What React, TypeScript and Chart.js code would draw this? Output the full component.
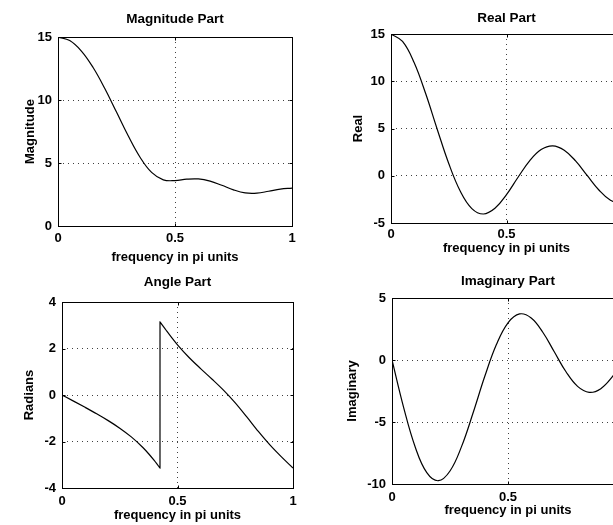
import React, { useEffect, useRef } from "react";
import { Chart, registerables } from "chart.js";
Chart.register(...registerables);

// ---- data ----
const freq = [0, 0.05, 0.1, 0.15, 0.2, 0.25, 0.3, 0.35, 0.4, 0.45, 0.5, 0.55, 0.6, 0.65, 0.7, 0.75, 0.8, 0.85, 0.9, 0.95, 1];
const magnitude = [15, 14.714, 13.882, 12.575, 10.911, 9.043, 7.158, 5.478, 4.253, 3.666, 3.606, 3.719, 3.735, 3.561, 3.232, 2.869, 2.629, 2.61, 2.76, 2.93, 3.0];
const realPart = [15, 14.21, 11.979, 8.697, 4.927, 1.293, -1.64, -3.474, -4.045, -3.448, -2.0, -0.16, 1.573, 2.771, 3.168, 2.707, 1.545, 0.005, -1.507, -2.602, -3.0];
const imagPart = [0, -3.819, -7.014, -9.083, -9.735, -8.95, -6.967, -4.236, -1.314, 1.244, 3.0, 3.716, 3.388, 2.236, 0.641, -0.95, -2.127, -2.61, -2.312, -1.347, 0];
const angleFreq = [0, 0.05, 0.1, 0.15, 0.2, 0.25, 0.3, 0.35, 0.375, 0.4, 0.41, 0.42, 0.4242, 0.4243, 0.425, 0.45, 0.475, 0.5, 0.55, 0.6, 0.65, 0.7, 0.75, 0.8, 0.85, 0.9, 0.95, 1];
const angleRad = [0, -0.2625, -0.5298, -0.8065, -1.1022, -1.4273, -1.8022, -2.2581, -2.5275, -2.8274, -2.955, -3.0859, -3.1416, 3.1416, 3.131, 2.7955, 2.4671, 2.1588, 1.6139, 1.1362, 0.679, 0.1997, -0.3374, -0.9425, -1.5689, -2.1487, -2.6638, -3.1416];

const freqTicks = [0, 0.5, 1];
const magTicks = [0, 5, 10, 15];
const realTicks = [-5, 0, 5, 10, 15];
const angleTicks = [-4, -2, 0, 2, 4];
const imagTicks = [-10, -5, 0, 5];

const titles = ["Magnitude Part", "Real Part", "Angle Part", "Imaginary Part"];
const yLabels = ["Magnitude", "Real", "Radians", "Imaginary"];
const xLabel = "frequency in pi units";

// ---- layout (page pixels) ----
const W = 640;
const H = 525;
const FONT = "'Liberation Sans', Arial, Helvetica, sans-serif";
const FS = 13;
const TFS = 13.5;

type Box = { L: number; R: number; T: number; B: number; titleY: number; ylabX: number; xlabY: number; tickPad: number };

const panels = [
  { x: freq, y: magnitude, yTicks: magTicks, mono: false, box: { L: 58, R: 292, T: 37, B: 226, titleY: 19.5, ylabX: 30, xlabY: 257.5, tickPad: 5 } },
  { x: freq, y: realPart, yTicks: realTicks, mono: false, box: { L: 391, R: 622, T: 34, B: 223, titleY: 18.5, ylabX: 358, xlabY: 248.5, tickPad: 4 } },
  { x: angleFreq, y: angleRad, yTicks: angleTicks, mono: true, box: { L: 62, R: 293, T: 302, B: 488, titleY: 282, ylabX: 29.5, xlabY: 515, tickPad: 5.5 } },
  { x: freq, y: imagPart, yTicks: imagTicks, mono: false, box: { L: 392, R: 624, T: 298, B: 484, titleY: 281, ylabX: 352, xlabY: 510, tickPad: 5.5 } },
];

const boxPlugin = {
  id: "matlabBox",
  afterDraw(chart: any) {
    const { ctx, chartArea: a } = chart;
    const l = Math.round(a.left) + 0.5;
    const t = Math.round(a.top) + 0.5;
    const r = Math.round(a.right) + 0.5;
    const b = Math.round(a.bottom) + 0.5;
    ctx.save();
    ctx.strokeStyle = "#000";
    ctx.lineWidth = 1;
    ctx.strokeRect(l, t, r - l, b - t);
    ctx.beginPath();
    const tl = 3;
    chart.scales.x.ticks.forEach((tk: any) => {
      const px = Math.round(chart.scales.x.getPixelForValue(tk.value)) + 0.5;
      ctx.moveTo(px, b); ctx.lineTo(px, b - tl);
      ctx.moveTo(px, t); ctx.lineTo(px, t + tl);
    });
    chart.scales.y.ticks.forEach((tk: any) => {
      const py = Math.round(chart.scales.y.getPixelForValue(tk.value)) + 0.5;
      ctx.moveTo(l, py); ctx.lineTo(l + tl, py);
      ctx.moveTo(r, py); ctx.lineTo(r - tl, py);
    });
    ctx.stroke();
    ctx.restore();
  },
};

function makeChart(canvas: HTMLCanvasElement, idx: number) {
  const p = panels[idx];
  const b: Box = p.box;
  const font = { family: FONT, size: FS, weight: "bold" as const, lineHeight: 1.2 };
  const tfont = { family: FONT, size: TFS, weight: "bold" as const, lineHeight: 1.2 };
  const padLeft = b.ylabX - (FS * 1.2) / 2;
  const padTop = b.titleY - (TFS * 1.2) / 2;
  const xBottom = b.xlabY + (FS * 1.2) / 2;
  const grid = { display: true, color: "rgba(0,0,0,0.75)", lineWidth: 1, drawTicks: false };
  const border = { display: false, dash: [1, 4] };
  const fmt = (v: any) => String(v);
  return new Chart(canvas, {
    type: "line",
    data: {
      datasets: [
        {
          data: p.x.map((x, i) => ({ x, y: p.y[i] })),
          borderColor: "#000",
          borderWidth: 1.2,
          pointRadius: 0,
          fill: false,
          tension: p.mono ? 0 : 0.4,
          cubicInterpolationMode: p.mono ? "monotone" : "default",
          xAxisID: "x",
          yAxisID: "y",
        },
      ],
    },
    options: {
      animation: false,
      responsive: false,
      devicePixelRatio: 1,
      events: [],
      layout: { padding: { left: padLeft, top: padTop, right: W - b.R, bottom: H - xBottom } },
      plugins: { legend: { display: false }, tooltip: { enabled: false }, title: { display: false } },
      scales: {
        x: {
          type: "linear",
          position: "bottom",
          min: 0,
          max: 1,
          afterBuildTicks: (s: any) => { s.ticks = freqTicks.map((v) => ({ value: v })); },
          afterFit: (s: any) => { s.height = xBottom - b.B; },
          grid,
          border,
          ticks: { font, color: "#000", padding: b.tickPad, callback: fmt, maxRotation: 0, autoSkip: false },
          title: { display: true, text: xLabel, font, color: "#000", padding: 0 },
        },
        x2: {
          type: "linear",
          axis: "x",
          position: "top",
          min: 0,
          max: 1,
          grid: { display: false, drawTicks: false },
          border: { display: false },
          ticks: { display: false },
          afterFit: (s: any) => { s.height = b.T - padTop; },
          title: { display: true, text: titles[idx], font: tfont, color: "#000", padding: 0 },
        },
        y: {
          type: "linear",
          position: "left",
          min: p.yTicks[0],
          max: p.yTicks[p.yTicks.length - 1],
          afterBuildTicks: (s: any) => { s.ticks = p.yTicks.map((v) => ({ value: v })); },
          afterFit: (s: any) => { s.width = b.L - padLeft; },
          grid,
          border,
          ticks: { font, color: "#000", padding: 6, callback: fmt, autoSkip: false },
          title: { display: true, text: yLabels[idx], font, color: "#000", padding: 0 },
        },
      },
    } as any,
    plugins: [boxPlugin],
  });
}

function Panel({ idx }: { idx: number }) {
  const ref = useRef<HTMLCanvasElement | null>(null);
  useEffect(() => {
    if (!ref.current) return;
    const c = makeChart(ref.current, idx);
    return () => c.destroy();
  }, [idx]);
  return (
    <canvas
      ref={ref}
      width={W}
      height={H}
      style={{ position: "absolute", left: 0, top: 0, width: W, height: H }}
    />
  );
}

export default function App() {
  return (
    <div style={{ position: "absolute", left: 0, top: 0, width: 613, height: 525, overflow: "hidden", background: "#fff" }}>
      {panels.map((_, i) => (
        <Panel key={i} idx={i} />
      ))}
    </div>
  );
}
